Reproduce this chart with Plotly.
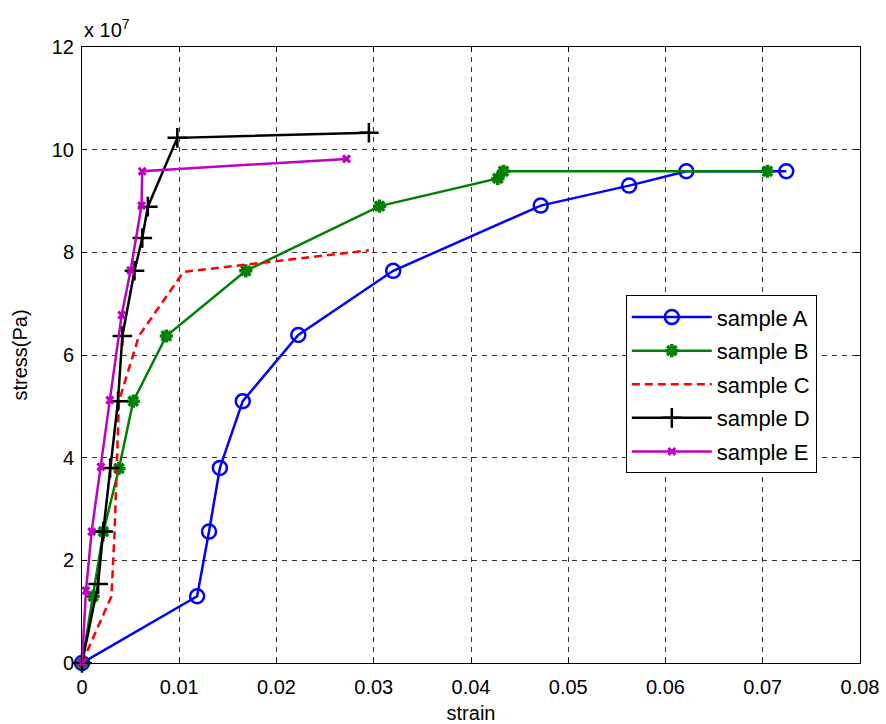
import plotly.graph_objects as go

# strain (dimensionless), stress in units of 1e7 Pa
a_strain = [0.0, 0.01184, 0.01306, 0.01418, 0.01653, 0.02224, 0.0320, 0.04717, 0.05626, 0.06214, 0.07242]
a_stress = [0.0, 1.30, 2.56, 3.80, 5.10, 6.39, 7.64, 8.91, 9.30, 9.58, 9.58]

b_strain = [0.0, 0.00115, 0.0022, 0.0038, 0.00527, 0.00867, 0.01684, 0.0306, 0.04276, 0.04334, 0.07048]
b_stress = [0.0, 1.30, 2.56, 3.79, 5.10, 6.37, 7.64, 8.90, 9.44, 9.58, 9.58]

c_strain = [0.0, 0.00303, 0.00335, 0.0036, 0.0038, 0.00585, 0.01044, 0.0295]
c_stress = [0.0, 1.30, 2.56, 3.83, 5.10, 6.37, 7.62, 8.04]

d_strain = [0.0, 0.00166, 0.00218, 0.00289, 0.0037, 0.00415, 0.0054, 0.0062, 0.00677, 0.0098, 0.0295]
d_stress = [0.0, 1.54, 2.56, 3.80, 5.10, 6.37, 7.64, 8.28, 8.89, 10.23, 10.33]

e_strain = [0.0, 0.00041, 0.00099, 0.00194, 0.00286, 0.00408, 0.005, 0.00612, 0.00619, 0.0272]
e_stress = [0.0, 1.41, 2.56, 3.82, 5.12, 6.78, 7.65, 8.91, 9.58, 9.82]

x_ticks = [0, 0.01, 0.02, 0.03, 0.04, 0.05, 0.06, 0.07, 0.08]
x_ticktext = ["0", "0.01", "0.02", "0.03", "0.04", "0.05", "0.06", "0.07", "0.08"]
y_ticks = [0, 2, 4, 6, 8, 10, 12]

FONT = "Liberation Sans, Arial, Helvetica, sans-serif"
FS = 20

fig = go.Figure()
series = [
    ("sample A", a_strain, a_stress, "#0000ff", "solid", dict(symbol="circle-open", size=14, line=dict(width=2.5, color="#0000ff"))),
    ("sample B", b_strain, b_stress, "#008000", "solid", dict(symbol="asterisk-open", size=11, line=dict(width=3.5, color="#008000"))),
    ("sample C", c_strain, c_stress, "#ff0000", "dash", None),
    ("sample D", d_strain, d_stress, "#000000", "solid", dict(symbol="cross-thin-open", size=14, line=dict(width=2.5, color="#000000"))),
    ("sample E", e_strain, e_stress, "#c000c0", "solid", dict(symbol="x-thin-open", size=7, line=dict(width=3, color="#c000c0"))),
]
for i, (name, xs, ys, col, dash, mk) in enumerate(series):
    kw = dict(x=xs, y=ys, name=name, legendgroup=name, cliponaxis=False,
              line=dict(color=col, width=2.5, dash="8px,5px" if dash == "dash" else "solid"))
    if mk is None:
        kw["mode"] = "lines"
    else:
        kw["mode"] = "lines+markers"
        kw["marker"] = mk
    fig.add_trace(go.Scatter(**kw))

axis_common = dict(
    showline=True, linecolor="black", linewidth=1, mirror="ticks",
    ticks="inside", ticklen=5, tickcolor="black", automargin=False,
    showgrid=True, gridcolor="#333333", gridwidth=1, griddash="5px,5px",
    zeroline=False, tickfont=dict(family=FONT, size=FS, color="black"),
)
fig.update_xaxes(range=[0, 0.08], tickvals=x_ticks, ticktext=x_ticktext, ticklabelstandoff=6,
                 title=dict(text="strain", font=dict(family=FONT, size=FS, color="black"), standoff=12),
                 **axis_common)
fig.update_yaxes(range=[0, 12], tickvals=y_ticks, ticklabelstandoff=3,
                 title=dict(text="stress(Pa)", font=dict(family=FONT, size=FS, color="black"), standoff=18),
                 **axis_common)

fig.add_annotation(text="x 10<sup>7</sup>", xref="paper", yref="paper", x=0, y=1.0,
                   xanchor="left", yanchor="bottom", showarrow=False, yshift=4,
                   font=dict(family=FONT, size=FS, color="black"))

fig.update_layout(
    width=886, height=724,
    margin=dict(l=82, r=26, t=47, b=61),
    paper_bgcolor="white", plot_bgcolor="white",
    legend=dict(x=0.699, y=0.597, xanchor="left", yanchor="top",
                bgcolor="white", bordercolor="black", borderwidth=1,
                font=dict(family=FONT, size=22, color="black"),
                itemwidth=80, tracegroupgap=2, traceorder="grouped"),
    showlegend=True,
)

fig.write_html("out.html")
